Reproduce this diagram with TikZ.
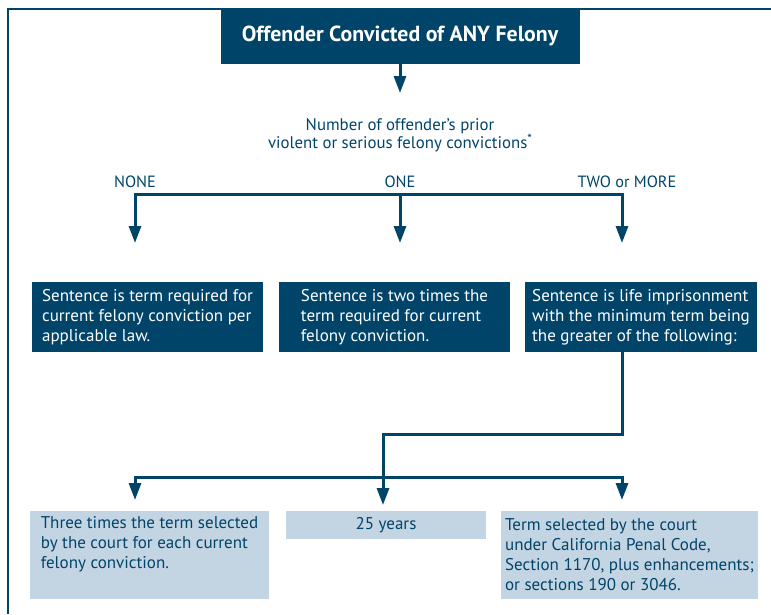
\documentclass[tikz,border=0pt]{standalone}
\usepackage{fontspec}
\setmainfont{PT Sans}
\usetikzlibrary{arrows.meta, positioning}
\definecolor{penalblue}{RGB}{0,68,106}
\definecolor{penallight}{RGB}{195,212,227}

\begin{document}
\begin{tikzpicture}[x=1pt,y=-1pt,
    titlebox/.style={fill=penalblue, text=white, inner sep=0pt, minimum width=359pt, minimum height=56pt, font=\fontsize{21.8}{24}\selectfont\bfseries},
    darkbox/.style={fill=penalblue, text=white, align=left, inner sep=0pt, minimum height=70pt, font=\fontsize{17}{20}\selectfont},
    lightbox/.style={fill=penallight, text=penalblue, align=left, inner sep=0pt, minimum height=88pt, font=\fontsize{17}{20}\selectfont},
    choice/.style={text=penalblue, font=\fontsize{16.3}{20}\selectfont},
    flow/.style={line width=3pt, penalblue, -{Triangle[length=17pt,width=12pt]}},
    frame/.style={line width=2.5pt, penalblue}]
            \useasboundingbox (0,0) rectangle (771,614);
            % Outer frame
            \draw[frame] (8,614) -- (8,9) -- (771,9);

            % Offender and prior convictions
            \node[titlebox] (offender) at (400,36) {Offender Convicted of ANY Felony};
            \coordinate (priortop) at (400,93);
            \draw[flow] (offender.south) -- (priortop);
            \node[choice, align=center, font=\fontsize{16.8}{18}\selectfont] (prior) at (400,135) {Number of offender’s prior\\violent or serious felony convictions\raisebox{5pt}{\fontsize{13}{13}\selectfont*}};

            \node[choice] (none) at (135,182) {NONE};
            \node[choice] (one) at (400,182) {ONE};
            \node[choice] (twomore) at (627,182) {TWO or MORE};

            % Sentences
            \node[darkbox, minimum width=231pt] (termlaw) at (147.5,317) {Sentence is term required for\\current felony conviction per\\applicable law.};
            \node[darkbox, minimum width=231pt] (twotimes) at (394.5,317) {Sentence is two times the\\term required for current\\felony conviction.};
            \node[darkbox, minimum width=232pt] (life) at (641,317) {Sentence is life imprisonment\\with the minimum term being\\the greater of the following:};

            \coordinate (fork) at (400,194);
            \coordinate (nonetip) at (135,243);
            \coordinate (onetip) at (400,243);
            \coordinate (twotip) at (622,243);
            \draw[flow] (fork) -| (nonetip);
            \draw[flow] (fork) -- (onetip);
            \draw[flow] (fork) -| (twotip);

            % Minimum term options
            \node[lightbox, minimum width=239pt] (threetimes) at (149.5,555) {Three times the term selected\\by the court for each current\\felony conviction.\\\strut};
            \node[lightbox, align=center, minimum width=200pt, minimum height=28pt] (years) at (386,525) {25 years};
            \node[lightbox, minimum width=257pt] (penalcode) at (629.5,555) {Term selected by the court\\under California Penal Code,\\Section 1170, plus enhancements;\\or sections 190 or 3046.};

            \coordinate (bend) at (383,434);
            \coordinate (yearstip) at (383,505);
            \coordinate (split) at (383,477);
            \coordinate (threetip) at (135,500);
            \coordinate (penaltip) at (622,500);
            \draw[flow] (twotip |- life.south) |- (bend) -- (yearstip);
            \draw[flow] (split) -| (threetip);
            \draw[flow] (split) -| (penaltip);
\end{tikzpicture}
\end{document}
